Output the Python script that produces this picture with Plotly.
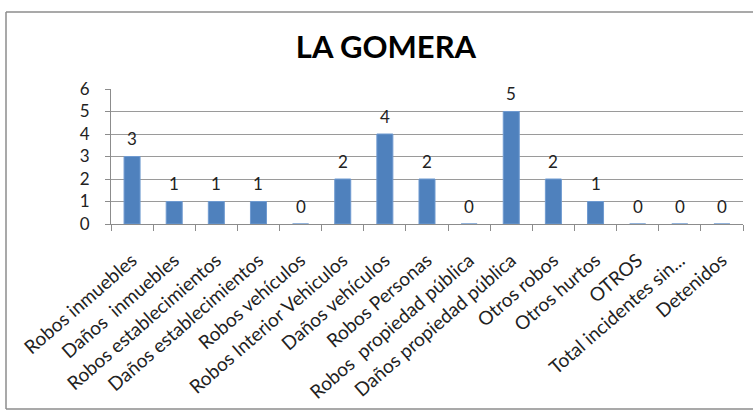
import plotly.graph_objects as go

categories = [
    "Robos inmuebles", "Daños  inmuebles", "Robos establecimientos",
    "Daños establecimientos", "Robos vehículos", "Robos Interior Vehiculos",
    "Daños vehículos", "Robos Personas", "Robos  propiedad pública",
    "Daños propiedad pública", "Otros robos", "Otros hurtos", "OTROS",
    "Total incidentes sin...", "Detenidos",
]
values = [3, 1, 1, 1, 0, 2, 4, 2, 0, 5, 2, 1, 0, 0, 0]
y_ticks = [0, 1, 2, 3, 4, 5, 6]

FONT = "Lato"

fig = go.Figure()
fig.add_trace(go.Bar(
    x=categories, y=values,
    marker=dict(color="#4F81BD", line=dict(color="#6f9ad0", width=1)),
    width=0.38,
))

for c, v in zip(categories, values):
    fig.add_annotation(x=c, y=v, text=str(v), showarrow=False,
                       yanchor="middle", yshift=18,
                       font=dict(family=FONT, size=17, color="#222"))

L, R, T, B = 111, 10, 89, 188
W, H = 753, 412
pw, ph = W - L - R, H - T - B
def px(x):
    return (x - L) / pw
def py(y):
    return (H - B - y) / ph

frame = dict(color="#8c8c8c", width=1.5)
fig.add_shape(type="line", xref="paper", yref="paper",
              x0=px(6), x1=px(6), y0=py(409), y1=py(12), line=frame, layer="below")
fig.add_shape(type="line", xref="paper", yref="paper",
              x0=px(6), x1=px(753), y0=py(12), y1=py(12), line=frame, layer="below")
fig.add_shape(type="line", xref="paper", yref="paper",
              x0=px(6), x1=px(753), y0=py(409), y1=py(409), line=frame, layer="below")

fig.update_layout(
    width=W, height=H,
    margin=dict(l=L, r=R, t=T, b=B, autoexpand=False),
    paper_bgcolor="white", plot_bgcolor="white",
    title=dict(text="<b>LA GOMERA</b>", x=386 / W, xref="container", xanchor="center",
               y=1 - 47 / H, yanchor="middle",
               font=dict(family=FONT, size=31, color="black")),
    showlegend=False,
    bargap=0.6,
    xaxis=dict(
        tickangle=-41, tickfont=dict(family=FONT, size=19, color="#222"),
        showline=True, linecolor="#8c8c8c", linewidth=1,
        ticks="outside", ticklen=6, tickcolor="#8c8c8c",
        tickson="boundaries", showgrid=False, automargin=False,
        ticklabelstandoff=17,
    ),
    yaxis=dict(
        range=[0, 6], tickvals=y_ticks, automargin=False,
        tickfont=dict(family=FONT, size=17, color="#222"),
        showline=True, linecolor="#8c8c8c", linewidth=1,
        ticks="outside", ticklen=5, tickcolor="#8c8c8c",
        showgrid=True, gridcolor="#9a9a9a", gridwidth=1,
        zeroline=False, ticklabelstandoff=12,
    ),
)

fig.write_html("out.html", config={"displayModeBar": False},
               post_script="document.body.style.margin='0';document.body.style.overflow='hidden';")
